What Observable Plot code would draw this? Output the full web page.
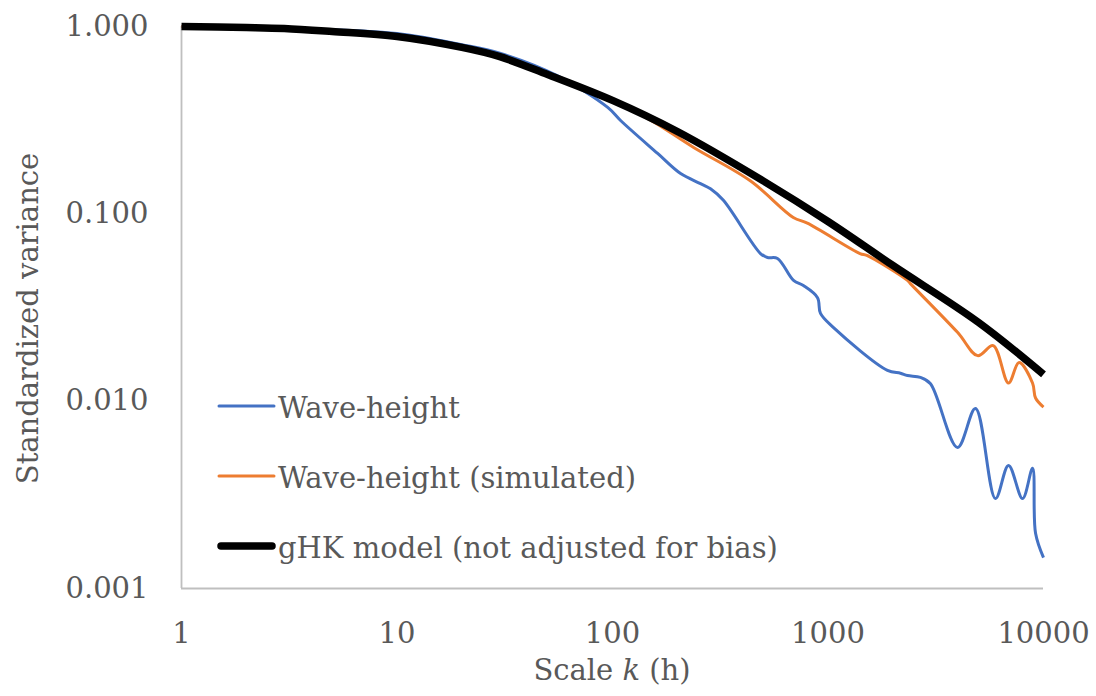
<!DOCTYPE html>
<html>
<head>
<meta charset="utf-8">
<script src="https://cdn.jsdelivr.net/npm/d3@7"></script>
<script src="https://cdn.jsdelivr.net/npm/@observablehq/plot@0.6"></script>
<style>
  html, body { margin: 0; padding: 0; background: #fff; }
  #chart { position: relative; width: 1096px; height: 696px; }
</style>
</head>
<body>
<div id="chart"></div>
<script>
// ---- data ----
const xTicks = [1, 10, 100, 1000, 10000];
const yTicks = [0.001, 0.01, 0.1, 1];

const seriesNames = ["Wave-height", "Wave-height (simulated)", "gHK model (not adjusted for bias)"];
const seriesColors = ["#4472C4", "#ED7D31", "#000000"];
const seriesWidths = [3, 3, 7.5];

const kObserved = [1, 3, 10, 20, 30, 55, 95, 109, 162, 207, 256, 285, 327, 486, 524, 583, 692, 769, 894, 923, 1061, 1888, 2169, 2338, 2685, 2990, 3990, 4834, 5983, 6881, 7996, 8893, 9186, 10000];
const vObserved = [1, 0.976, 0.918, 0.80, 0.72, 0.548, 0.37, 0.315, 0.21, 0.164, 0.145, 0.136, 0.118, 0.0614, 0.0585, 0.0578, 0.0441, 0.0414, 0.0357, 0.0294, 0.0247, 0.0146, 0.0141, 0.0137, 0.0134, 0.0124, 0.00566, 0.00914, 0.00302, 0.00454, 0.00302, 0.00438, 0.00197, 0.00146];

const kSimulated = [1, 3, 10, 30, 50, 100, 149, 238, 436, 690, 802, 1408, 1514, 2338, 2412, 3990, 4950, 5840, 6881, 7700, 8893, 9186, 10000];
const vSimulated = [1, 0.976, 0.885, 0.69, 0.555, 0.40, 0.318, 0.226, 0.150, 0.0956, 0.0892, 0.0614, 0.060, 0.0441, 0.0424, 0.0233, 0.0175, 0.0198, 0.0125, 0.0161, 0.0125, 0.0104, 0.0093];

const kModel = [1, 2, 3, 5, 10, 20, 30, 50, 100, 200, 500, 1000, 2000, 5000, 10000];
const vModel = [1, 0.988, 0.976, 0.94, 0.884, 0.773, 0.69, 0.554, 0.403, 0.275, 0.150, 0.091, 0.053, 0.0263, 0.0139];

const yTitle = "Standardized variance";
const xTitleParts = ["Scale ", "k", " (h)"];

// ---- build table ----
const table = [];
[[kObserved, vObserved], [kSimulated, vSimulated], [kModel, vModel]].forEach(([ks, vs], i) => {
  ks.forEach((k, j) => table.push({series: seriesNames[i], k, v: vs[j]}));
});

const font = "'DejaVu Serif', 'Liberation Serif', serif";
const fs = 29;
const textColor = "#595959";
const axisColor = "#BFBFBF";

const lineMarks = seriesNames.map((name, i) =>
  Plot.line(table.filter(d => d.series === name), {
    x: "k", y: "v", stroke: seriesColors[i], strokeWidth: seriesWidths[i],
    curve: "catmull-rom", strokeLinecap: "butt", strokeLinejoin: "round"
  })
);

const chart = Plot.plot({
  width: 1096,
  height: 696,
  marginLeft: 181,
  marginRight: 53,
  marginTop: 26,
  marginBottom: 108,
  style: {fontFamily: font, fontSize: fs + "px", color: textColor, background: "#fff", overflow: "visible"},
  x: {type: "log", domain: [1, 10000]},
  y: {type: "log", domain: [0.001, 1]},
  marks: [
    Plot.axisX({ticks: xTicks, tickFormat: d3.format("d"), tickSize: 0, tickPadding: 34, label: null, fontSize: fs}),
    Plot.axisY({ticks: yTicks, tickFormat: d3.format(".3f"), tickSize: 0, tickPadding: 33, label: null, fontSize: fs}),
    Plot.ruleX([1], {stroke: axisColor, strokeWidth: 1.8}),
    Plot.ruleY([0.001], {stroke: axisColor, strokeWidth: 1.8}),
    ...lineMarks,
    Plot.text([yTitle], {text: d => d, frameAnchor: "left", textAnchor: "middle", rotate: -90, dx: -153, dy: 11, fill: textColor, fontSize: fs})
  ]
});

document.getElementById("chart").appendChild(chart);

const svg = d3.select(chart);

// x-axis title with italic k, as adjacent text elements, centred under the frame
const xt = svg.append("g").attr("font-family", font).attr("font-size", fs).attr("fill", textColor).attr("text-anchor", "start");
const xCenter = (181 + (1096 - 53)) / 2;
const parts = xTitleParts.map((p, i) => xt.append("text").attr("y", 680)
  .attr("font-style", i === 1 ? "italic" : "normal").attr("xml:space", "preserve").style("white-space", "pre").text(p));
const widths = parts.map(t => t.node().getComputedTextLength());
const total = widths.reduce((a, b) => a + b, 0);
let cx = xCenter - total / 2;
parts.forEach((t, i) => { t.attr("x", cx); cx += widths[i]; });

// legend inside the plot area
const legend = svg.append("g").attr("font-family", font).attr("font-size", fs).attr("fill", textColor).attr("text-anchor", "start");
const legendRows = [406, 476, 546];
seriesNames.forEach((name, i) => {
  const y = legendRows[i];
  legend.append("line")
    .attr("x1", i === 2 ? 221 : 219).attr("x2", i === 2 ? 272 : 274)
    .attr("y1", y).attr("y2", y)
    .attr("stroke", seriesColors[i]).attr("stroke-width", seriesWidths[i])
    .attr("stroke-linecap", "round");
  legend.append("text").attr("x", 278).attr("y", y + 12).text(name);
});
</script>
</body>
</html>
